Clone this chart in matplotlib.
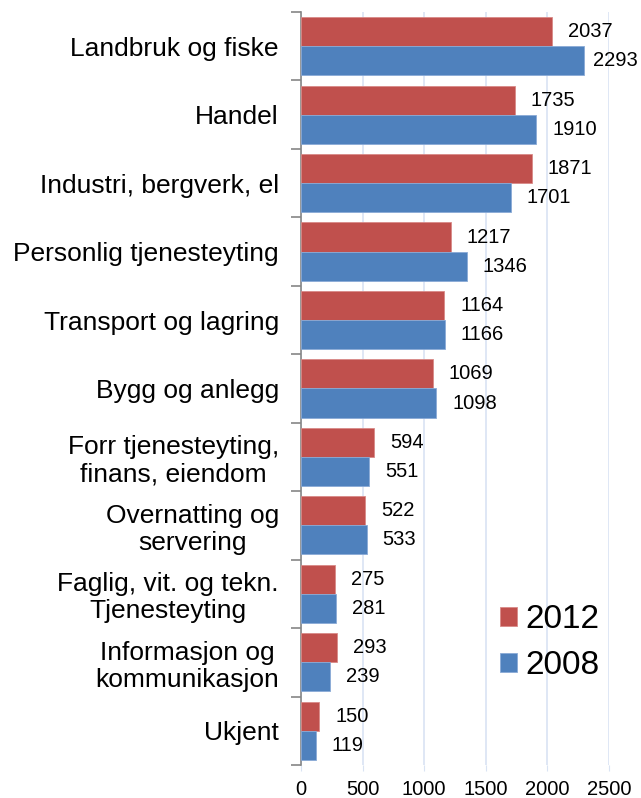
import numpy as np
import matplotlib.pyplot as plt
from matplotlib.ticker import FixedLocator

plt.rcParams['font.family'] = ['Liberation Sans', 'DejaVu Sans']

categories = ['Landbruk og fiske', 'Handel', 'Industri, bergverk, el',
              'Personlig tjenesteyting', 'Transport og lagring', 'Bygg og anlegg',
              'Forr tjenesteyting,\nfinans, eiendom', 'Overnatting og\nservering',
              'Faglig, vit. og tekn.\nTjenesteyting', 'Informasjon og\nkommunikasjon',
              'Ukjent']
v2012 = [2037, 1735, 1871, 1217, 1164, 1069, 594, 522, 275, 293, 150]
v2008 = [2293, 1910, 1701, 1346, 1166, 1098, 551, 533, 281, 239, 119]

red = '#C0504D'
blue = '#4F81BD'

fig = plt.figure(figsize=(6.41, 7.98), dpi=100)
ax = fig.add_axes([0.4696, 0.0414, 0.4805, 0.9436])

n = len(categories)
y = np.arange(n)
h = 0.425
ax.barh(y - h / 2, v2012, height=h, color=red, edgecolor='#d98a88', linewidth=0.6, label='2012', zorder=3)
ax.barh(y + h / 2, v2008, height=h, color=blue, edgecolor='#8aaad6', linewidth=0.6, label='2008', zorder=3)


def label(val, ypos):
    # long bars get a smaller gap so the number stays inside the figure
    off = 7 if val > 2200 else 11.5
    ax.annotate(str(val), (val, ypos), xytext=(off, 0), textcoords='offset points',
                va='center', ha='left', fontsize=14.5, annotation_clip=False)


for yi, a, b in zip(y, v2012, v2008):
    label(a, yi - h / 2)
    label(b, yi + h / 2)

ax.set_xlim(0, 2500)
ax.set_ylim(n - 0.5, -0.5)
ax.set_xticks([0, 500, 1000, 1500, 2000, 2500])
ax.tick_params(axis='x', labelsize=14.5, length=4, color='#d9e3f3', pad=7)
ax.xaxis.grid(True, color='#d9e3f3', linewidth=1.2, zorder=0)

ax.set_yticks(y)
ax.set_yticklabels(categories, fontsize=19, linespacing=1.15)
ax.tick_params(axis='y', which='major', length=0, pad=16)
ax.yaxis.set_minor_locator(FixedLocator(np.arange(n + 1) - 0.5))
ax.tick_params(axis='y', which='minor', length=7, color='#868686', width=1.2)
for lab in ax.get_yticklabels():
    lab.set_horizontalalignment('right')
    lab.set_multialignment('center')

for s in ['top', 'right', 'bottom']:
    ax.spines[s].set_visible(False)
ax.spines['left'].set_color('#868686')
ax.spines['left'].set_linewidth(1.2)

handles, labels = ax.get_legend_handles_labels()
fig.legend(handles, labels, loc='upper left', bbox_to_anchor=(0.78, 0.243), frameon=False,
           fontsize=24, borderpad=0, borderaxespad=0,
           handlelength=0.5, handleheight=0.5, handletextpad=0.25, labelspacing=0.45)

fig.savefig('out.png', dpi=100)
